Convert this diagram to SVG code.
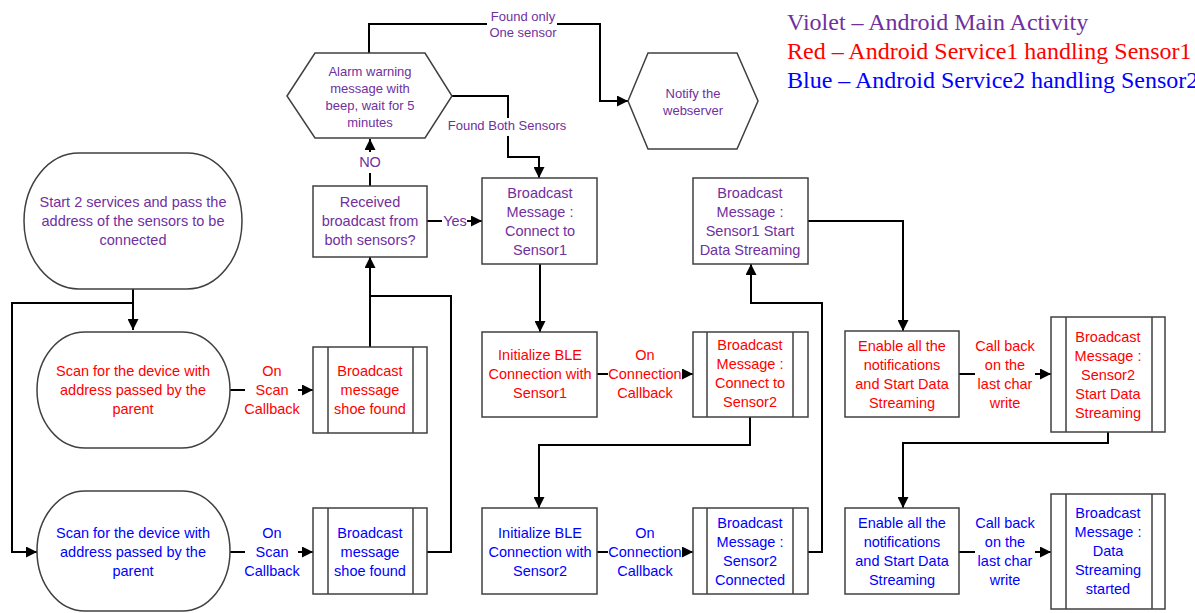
<svg xmlns="http://www.w3.org/2000/svg" width="1195" height="613" viewBox="0 0 1195 613">
<style>
.sh{fill:#fff;stroke:#404040;stroke-width:1.5}
.ln{fill:none;stroke:#000;stroke-width:2}
.t{font-family:"Liberation Sans",Arial,sans-serif;font-size:14.5px;text-anchor:middle}
.s{font-size:13px}
.v{fill:#7030A0}.r{fill:#FF0000}.b{fill:#0000FF}
.lg{font-family:"Liberation Serif","Times New Roman",serif;font-size:24px}
</style>
<defs>
<marker id="ah" markerUnits="userSpaceOnUse" markerWidth="11" markerHeight="11" refX="10" refY="5" orient="auto" viewBox="0 0 10 10">
<path d="M0,0 L10,5 L0,10 z" fill="#000"/>
</marker>
</defs>
<rect width="1195" height="613" fill="#fff"/>

<g id="legend">
<text class="lg v" x="787" y="30">Violet – Android Main Activity</text>
<text class="lg r" x="787" y="59">Red – Android Service1 handling Sensor1</text>
<text class="lg b" x="787" y="88">Blue – Android Service2 handling Sensor2</text>
</g>

<g id="connectors">
<path class="ln" d="M133,289 V330" marker-end="url(#ah)"/>
<path class="ln" d="M133,303 H12 V552 H37" marker-end="url(#ah)"/>
<path class="ln" d="M230,390 H245"/>
<path class="ln" d="M298,390 H313" marker-end="url(#ah)"/>
<path class="ln" d="M230,552 H245"/>
<path class="ln" d="M298,552 H313" marker-end="url(#ah)"/>
<path class="ln" d="M370,347 V257" marker-end="url(#ah)"/>
<path class="ln" d="M427,552 H451 V296 H370"/>
<path class="ln" d="M427,221 H442"/>
<path class="ln" d="M467,221 H482" marker-end="url(#ah)"/>
<path class="ln" d="M370,186 V173"/>
<path class="ln" d="M370,152 V139" marker-end="url(#ah)"/>
<path class="ln" d="M369,53 V24 H487"/>
<path class="ln" d="M557,24 H600 V101 H628" marker-end="url(#ah)"/>
<path class="ln" d="M452,96 H508 V118"/>
<path class="ln" d="M508,136 V157 H539 V178" marker-end="url(#ah)"/>
<path class="ln" d="M540,264 V332" marker-end="url(#ah)"/>
<path class="ln" d="M597,374 H608"/>
<path class="ln" d="M683,374 H693" marker-end="url(#ah)"/>
<path class="ln" d="M750,417 V445 H539 V508" marker-end="url(#ah)"/>
<path class="ln" d="M597,552 H608"/>
<path class="ln" d="M683,552 H693" marker-end="url(#ah)"/>
<path class="ln" d="M808,552 H822 V303 H751 V264" marker-end="url(#ah)"/>
<path class="ln" d="M808,221 H903 V331" marker-end="url(#ah)"/>
<path class="ln" d="M959,374 H975"/>
<path class="ln" d="M1035,374 H1051" marker-end="url(#ah)"/>
<path class="ln" d="M1108,432 V443 H903 V508" marker-end="url(#ah)"/>
<path class="ln" d="M959,552 H975"/>
<path class="ln" d="M1035,552 H1051" marker-end="url(#ah)"/>
<text class="t r" x="272"><tspan x="272" y="376">On</tspan><tspan x="272" y="395">Scan</tspan><tspan x="272" y="414">Callback</tspan></text>
<text class="t b" x="272"><tspan x="272" y="538">On</tspan><tspan x="272" y="557">Scan</tspan><tspan x="272" y="576">Callback</tspan></text>
<text class="t v" x="455" y="226">Yes</text>
<text class="t v" x="370" y="167">NO</text>
<text class="t s v" x="523"><tspan x="523" y="21">Found only</tspan><tspan x="523" y="37">One sensor</tspan></text>
<text class="t s v" x="507" y="130">Found Both Sensors</text>
<text class="t r" x="645"><tspan x="645" y="360">On</tspan><tspan x="645" y="379">Connection</tspan><tspan x="645" y="398">Callback</tspan></text>
<text class="t b" x="645"><tspan x="645" y="538">On</tspan><tspan x="645" y="557">Connection</tspan><tspan x="645" y="576">Callback</tspan></text>
<text class="t r" x="1005"><tspan x="1005" y="351">Call back</tspan><tspan x="1005" y="370">on the</tspan><tspan x="1005" y="389">last char</tspan><tspan x="1005" y="408">write</tspan></text>
<text class="t b" x="1005"><tspan x="1005" y="528">Call back</tspan><tspan x="1005" y="547">on the</tspan><tspan x="1005" y="566">last char</tspan><tspan x="1005" y="585">write</tspan></text>
</g>

<g id="start">
<rect class="sh" x="24" y="153" width="218" height="136" rx="55" ry="68"/>
<text class="t v"><tspan x="133" y="207">Start 2 services and pass the</tspan><tspan x="133" y="226">address of the sensors to be</tspan><tspan x="133" y="245">connected</tspan></text>
</g>

<g id="scan1">
<rect class="sh" x="37" y="332" width="193" height="116" rx="48" ry="58"/>
<text class="t r"><tspan x="133" y="376">Scan for the device with</tspan><tspan x="133" y="395">address passed by the</tspan><tspan x="133" y="414">parent</tspan></text>
</g>

<g id="scan2">
<rect class="sh" x="37" y="491" width="193" height="120" rx="48" ry="60"/>
<text class="t b"><tspan x="133" y="538">Scan for the device with</tspan><tspan x="133" y="557">address passed by the</tspan><tspan x="133" y="576">parent</tspan></text>
</g>

<g id="shoe1">
<rect class="sh" x="313" y="347" width="114" height="86"/>
<path class="sh" d="M328,347 V433 M413,347 V433"/>
<text class="t r"><tspan x="370" y="376">Broadcast</tspan><tspan x="370" y="395">message</tspan><tspan x="370" y="414">shoe found</tspan></text>
</g>

<g id="shoe2">
<rect class="sh" x="313" y="508" width="114" height="86"/>
<path class="sh" d="M328,508 V594 M413,508 V594"/>
<text class="t b"><tspan x="370" y="538">Broadcast</tspan><tspan x="370" y="557">message</tspan><tspan x="370" y="576">shoe found</tspan></text>
</g>

<g id="decision">
<rect class="sh" x="313" y="186" width="114" height="71"/>
<text class="t v"><tspan x="370" y="207">Received</tspan><tspan x="370" y="226">broadcast from</tspan><tspan x="370" y="245">both sensors?</tspan></text>
</g>

<g id="alarm">
<polygon class="sh" points="287,96 315,53 425,53 452,96 425,138 315,138"/>
<text class="t s v"><tspan x="370" y="76">Alarm warning</tspan><tspan x="370" y="93">message with</tspan><tspan x="370" y="110">beep, wait for 5</tspan><tspan x="370" y="127">minutes</tspan></text>
</g>

<g id="notify">
<polygon class="sh" points="628,101 648,53 737,53 758,101 737,149 648,149"/>
<text class="t s v"><tspan x="693" y="98">Notify the</tspan><tspan x="693" y="115">webserver</tspan></text>
</g>

<g id="bc1">
<rect class="sh" x="482" y="178" width="115" height="86"/>
<text class="t v"><tspan x="540" y="198">Broadcast</tspan><tspan x="540" y="217">Message :</tspan><tspan x="540" y="236">Connect to</tspan><tspan x="540" y="255">Sensor1</tspan></text>
</g>

<g id="bcStart1">
<rect class="sh" x="693" y="178" width="115" height="86"/>
<text class="t v"><tspan x="750" y="198">Broadcast</tspan><tspan x="750" y="217">Message :</tspan><tspan x="750" y="236">Sensor1 Start</tspan><tspan x="750" y="255">Data Streaming</tspan></text>
</g>

<g id="init1">
<rect class="sh" x="482" y="332" width="115" height="85"/>
<text class="t r"><tspan x="540" y="360">Initialize BLE</tspan><tspan x="540" y="379">Connection with</tspan><tspan x="540" y="398">Sensor1</tspan></text>
</g>

<g id="bcConn2">
<rect class="sh" x="693" y="332" width="115" height="85"/>
<path class="sh" d="M707,332 V417 M793,332 V417"/>
<text class="t r"><tspan x="750" y="350">Broadcast</tspan><tspan x="750" y="369">Message :</tspan><tspan x="750" y="388">Connect to</tspan><tspan x="750" y="407">Sensor2</tspan></text>
</g>

<g id="init2">
<rect class="sh" x="482" y="508" width="115" height="86"/>
<text class="t b"><tspan x="540" y="538">Initialize BLE</tspan><tspan x="540" y="557">Connection with</tspan><tspan x="540" y="576">Sensor2</tspan></text>
</g>

<g id="bcConnected2">
<rect class="sh" x="693" y="508" width="115" height="86"/>
<path class="sh" d="M707,508 V594 M793,508 V594"/>
<text class="t b"><tspan x="750" y="528">Broadcast</tspan><tspan x="750" y="547">Message :</tspan><tspan x="750" y="566">Sensor2</tspan><tspan x="750" y="585">Connected</tspan></text>
</g>

<g id="enable1">
<rect class="sh" x="845" y="331" width="114" height="86"/>
<text class="t r"><tspan x="902" y="351">Enable all the</tspan><tspan x="902" y="370">notifications</tspan><tspan x="902" y="389">and Start Data</tspan><tspan x="902" y="408">Streaming</tspan></text>
</g>

<g id="bcStart2">
<rect class="sh" x="1051" y="317" width="114" height="115"/>
<path class="sh" d="M1066,317 V432 M1152,317 V432"/>
<text class="t r"><tspan x="1108" y="342">Broadcast</tspan><tspan x="1108" y="361">Message :</tspan><tspan x="1108" y="380">Sensor2</tspan><tspan x="1108" y="399">Start Data</tspan><tspan x="1108" y="418">Streaming</tspan></text>
</g>

<g id="enable2">
<rect class="sh" x="845" y="508" width="114" height="86"/>
<text class="t b"><tspan x="902" y="528">Enable all the</tspan><tspan x="902" y="547">notifications</tspan><tspan x="902" y="566">and Start Data</tspan><tspan x="902" y="585">Streaming</tspan></text>
</g>

<g id="bcStarted">
<rect class="sh" x="1051" y="494" width="114" height="115"/>
<path class="sh" d="M1066,494 V609 M1152,494 V609"/>
<text class="t b"><tspan x="1108" y="518">Broadcast</tspan><tspan x="1108" y="537">Message :</tspan><tspan x="1108" y="556">Data</tspan><tspan x="1108" y="575">Streaming</tspan><tspan x="1108" y="594">started</tspan></text>
</g>
</svg>
